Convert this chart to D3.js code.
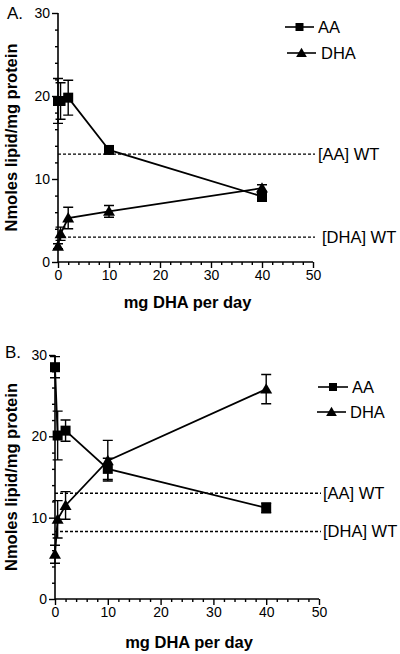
<!DOCTYPE html>
<html><head><meta charset="utf-8">
<script src="https://cdn.jsdelivr.net/npm/d3@7"></script>
<style>body{margin:0;background:#fff}svg{display:block}text{font-family:"Liberation Sans",Arial,sans-serif;fill:#000}</style>
</head><body>
<script>
const doses = [0, 0.5, 2, 10, 40];
const xTicks = [0, 10, 20, 30, 40, 50];
const yTicks = [0, 10, 20, 30];
const seriesNames = ["AA", "DHA"];
const xTitle = "mg DHA per day";
const yTitle = "Nmoles lipid/mg protein";

const A_AA = [19.4, 19.4, 19.8, 13.5, 7.9];
const A_AA_err = [2.7, 2.2, 2.1, 0.3, 0.6];
const A_DHA = [1.9, 3.4, 5.3, 6.1, 8.9];
const A_DHA_err = [0.3, 0.8, 1.3, 0.7, 0.4];
const A_WT = [13.0, 3.0];

const B_AA = [28.5, 20.1, 20.7, 16.0, 11.2];
const B_AA_err = [1.3, 3.0, 1.3, 1.3, 0.6];
const B_DHA = [5.5, 9.8, 11.5, 17.0, 25.8];
const B_DHA_err = [1.1, 2.3, 1.7, 2.5, 1.8];
const B_WT = [13.0, 8.3];

const W = 400, H = 654;
const svg = d3.select("body").append("svg").attr("width", W).attr("height", H);

function panel(cfg) {
  const x = d3.scaleLinear().domain([0, 50]).range([cfg.x0, cfg.x1]);
  const y = d3.scaleLinear().domain([0, 30]).range([cfg.y0, cfg.y1]);
  const g = svg.append("g");

  const xa = g.append("g").attr("transform", `translate(0,${cfg.y0})`)
    .call(d3.axisBottom(x).tickValues(xTicks).tickSize(6).tickPadding(2).tickFormat(d3.format("d")));
  g.append("g").attr("transform", `translate(0,${cfg.y0})`)
    .call(d3.axisBottom(x).tickValues(d3.range(0, 51, 2).filter(v => v % 10 !== 0)).tickSize(3).tickFormat(""))
    .select(".domain").remove();
  const ya = g.append("g").attr("transform", `translate(${cfg.x0},0)`)
    .call(d3.axisLeft(y).tickValues(yTicks).tickSize(6).tickPadding(2).tickFormat(d3.format("d")));
  g.append("g").attr("transform", `translate(${cfg.x0},0)`)
    .call(d3.axisLeft(y).tickValues(d3.range(0, 31, 2).filter(v => v % 10 !== 0)).tickSize(3).tickFormat(""))
    .select(".domain").remove();
  g.selectAll(".domain").attr("stroke-width", 1.6);
  g.selectAll(".tick line").attr("stroke-width", 1.4);
  g.selectAll(".tick text").attr("font-size", 14).style("font-family", "Liberation Sans, Arial, sans-serif");
  xa.select(".domain").attr("d", `M${cfg.x0},0H${cfg.x1}`);
  ya.select(".domain").attr("d", `M0,${cfg.y0}V${cfg.y1}`);

  const wtLabels = ["[AA] WT", "[DHA] WT"];
  cfg.wt.forEach((v, i) => {
    g.append("line").attr("x1", cfg.x0).attr("x2", cfg.x1 + 2)
      .attr("y1", y(v)).attr("y2", y(v))
      .attr("stroke", "#000").attr("stroke-width", 1.3).attr("stroke-dasharray", "3,2");
    g.append("text").attr("x", cfg.wtx[i]).attr("y", y(v)).attr("dy", "0.36em")
      .attr("font-size", 16.5).text(wtLabels[i]);
  });

  const series = [
    {vals: cfg.aa, err: cfg.aaErr, sym: d3.symbolSquare, size: 100},
    {vals: cfg.dha, err: cfg.dhaErr, sym: d3.symbolTriangle, size: 62}
  ];
  const line = d3.line().x((d, i) => x(doses[i])).y(d => y(d));
  series.forEach(s => {
    g.append("path").attr("d", line(s.vals)).attr("fill", "none")
      .attr("stroke", "#000").attr("stroke-width", 1.8);
    s.vals.forEach((v, i) => {
      const cx = x(doses[i]);
      const hi = y(v + s.err[i]), lo = y(v - s.err[i]);
      g.append("path").attr("d", `M${cx},${hi}V${lo}M${cx - 5},${hi}H${cx + 5}M${cx - 5},${lo}H${cx + 5}`)
        .attr("stroke", "#000").attr("stroke-width", 1.4).attr("fill", "none");
    });
    s.vals.forEach((v, i) => {
      g.append("path").attr("d", d3.symbol().type(s.sym).size(s.size)())
        .attr("transform", `translate(${x(doses[i])},${y(v) + (s.sym === d3.symbolTriangle ? 1 : 0)})`)
        .attr("fill", "#000");
    });
  });

  cfg.leg.forEach((L, i) => {
    g.append("line").attr("x1", L.lx1).attr("x2", L.lx2).attr("y1", L.y).attr("y2", L.y)
      .attr("stroke", "#000").attr("stroke-width", 1.6);
    g.append("path").attr("d", d3.symbol().type(series[i].sym).size(i === 0 ? 64 : 50)())
      .attr("transform", `translate(${(L.lx1 + L.lx2) / 2},${L.y + (i ? 1 : 0)})`).attr("fill", "#000");
    g.append("text").attr("x", L.tx).attr("y", L.y).attr("dy", "0.36em")
      .attr("font-size", 16.5).text(seriesNames[i]);
  });

  g.append("text").attr("x", (cfg.x0 + cfg.x1) / 2 + 2).attr("y", cfg.xTitleY)
    .attr("text-anchor", "middle").attr("font-size", 16.5).attr("font-weight", "bold").text(xTitle);
  g.append("text").attr("transform", `translate(${cfg.yTitleX},${(cfg.y0 + cfg.y1) / 2}) rotate(-90)`)
    .attr("text-anchor", "middle").attr("font-size", 16.5).attr("font-weight", "bold").text(yTitle);
  g.append("text").attr("x", cfg.lab[0]).attr("y", cfg.lab[1]).attr("dy", "0.36em")
    .attr("font-size", 17).text(cfg.label);
}

panel({
  x0: 58, x1: 313, y0: 262, y1: 13,
  aa: A_AA, aaErr: A_AA_err, dha: A_DHA, dhaErr: A_DHA_err, wt: A_WT,
  wtx: [318, 322],
  leg: [{lx1: 285, lx2: 314, y: 27, tx: 318}, {lx1: 287, lx2: 316, y: 53, tx: 321}],
  xTitleY: 308, yTitleX: 17, label: "A.", lab: [7, 13]
});
panel({
  x0: 55, x1: 319, y0: 599, y1: 355,
  aa: B_AA, aaErr: B_AA_err, dha: B_DHA, dhaErr: B_DHA_err, wt: B_WT,
  wtx: [323, 323],
  leg: [{lx1: 318, lx2: 348, y: 387, tx: 352}, {lx1: 317, lx2: 346, y: 412, tx: 350}],
  xTitleY: 648, yTitleX: 17, label: "B.", lab: [5, 352]
});
</script>
</body></html>
